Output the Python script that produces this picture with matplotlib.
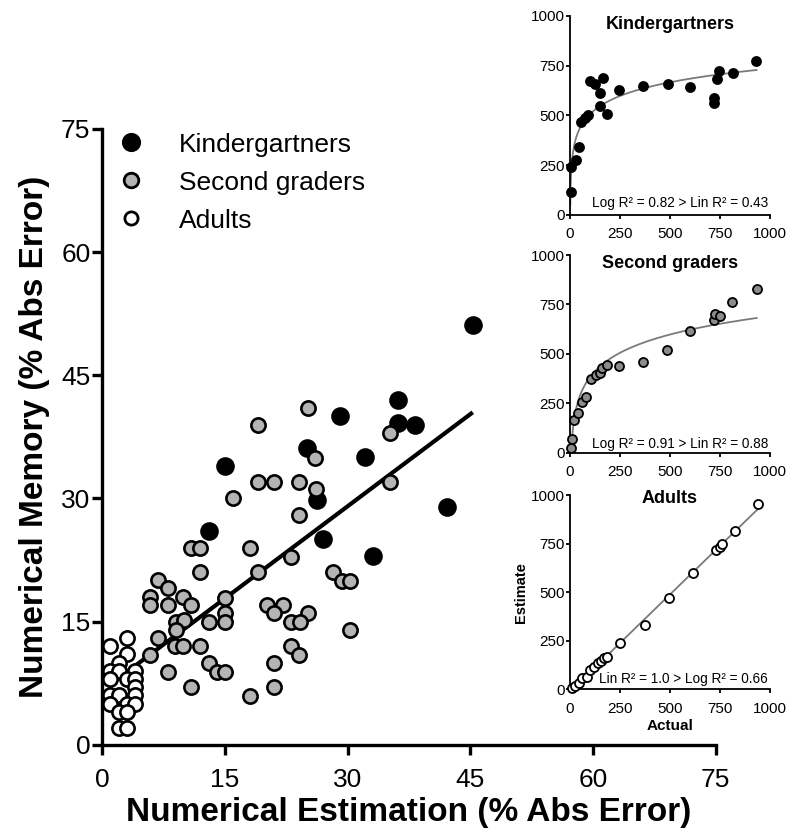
import numpy as np
import matplotlib
matplotlib.use('Agg')
from matplotlib import pyplot as plt
from matplotlib.lines import Line2D

# main scatter: numerical estimation vs numerical memory (% abs error)
kinder_est = [45.3, 36.2, 29.1, 36.2, 38.2, 25.0, 32.1, 15.0, 26.2, 42.2, 13.0, 27.0, 33.1]
kinder_mem = [51.1, 42.0, 40.0, 39.2, 39.0, 36.1, 35.1, 34.0, 29.8, 29.0, 26.0, 25.0, 23.0]

second_est = [25.1, 19.0, 35.2, 26.0, 19.0, 21.0, 24.1, 26.1, 35.2, 16.0, 24.1, 10.9, 11.9, 18.1,
              23.1, 19.0, 11.9, 28.2, 29.3, 30.3, 6.8, 8.0, 5.8, 9.9, 5.8, 8.0, 10.9, 15.0, 15.0,
              20.1, 22.1, 21.0, 25.1, 9.0, 10.0, 13.0, 15.0, 23.1, 24.2, 30.3, 9.0, 6.8, 8.9, 9.9,
              11.9, 5.8, 23.1, 24.1, 13.0, 14.0, 15.0, 8.0, 21.0, 10.9, 21.0, 18.1]
second_mem = [41.0, 39.0, 38.0, 34.9, 32.0, 32.0, 32.0, 31.1, 32.0, 30.0, 28.0, 23.9, 23.9, 23.9,
              22.9, 21.0, 21.0, 21.0, 20.0, 20.0, 20.1, 19.1, 18.0, 18.0, 17.0, 17.0, 17.0, 17.9, 16.0,
              17.0, 17.0, 16.0, 16.0, 15.0, 15.2, 15.0, 15.0, 15.0, 15.0, 14.0, 14.0, 13.0, 12.0, 12.0,
              12.0, 10.9, 12.0, 10.9, 9.9, 8.9, 8.9, 8.9, 9.9, 7.0, 7.0, 5.9]

adult_est = [3.0, 0.9, 3.0, 2.0, 1.0, 2.0, 4.0, 0.9, 3.0, 4.0, 4.0, 1.0, 2.0, 4.0, 1.0, 3.0, 4.0,
             2.0, 3.0, 2.0, 3.0]
adult_mem = [13.0, 12.0, 11.0, 10.0, 9.0, 9.0, 9.0, 8.0, 8.0, 8.0, 7.0, 6.0, 6.0, 6.0, 5.0, 5.0,
             5.0, 4.0, 4.0, 2.0, 2.0]

# insets: actual vs estimate on 0-1000 number line
k_act = [5, 5, 27, 43, 55, 72, 88, 102, 127, 150, 167, 150, 183, 247, 367, 488, 602, 718, 722,
         733, 747, 813, 933]
k_est = [117, 243, 276, 343, 469, 486, 503, 673, 657, 615, 687, 548, 506, 628, 650, 658, 641,
         561, 590, 683, 725, 712, 774]
s_act = [3, 7, 17, 37, 61, 78, 103, 128, 150, 161, 183, 244, 365, 485, 601, 718, 726, 751, 811, 934]
s_est = [22, 67, 165, 202, 258, 280, 371, 393, 405, 427, 444, 438, 460, 519, 617, 671, 702, 691,
         761, 828]
a_act = [8, 25, 42, 59, 84, 101, 121, 138, 155, 171, 185, 252, 373, 496, 613, 731, 748, 760, 824, 941]
a_est = [5, 17, 31, 57, 65, 99, 117, 134, 148, 160, 165, 237, 331, 468, 597, 717, 734, 748, 815, 952]

main_ticks = [0, 15, 30, 45, 60, 75]
inset_ticks = [0, 250, 500, 750, 1000]

plt.rcParams['font.family'] = ['Liberation Sans', 'DejaVu Sans']

fig = plt.figure(figsize=(7.88, 8.32), dpi=100)
ax = fig.add_axes([0.1298, 0.1049, 0.7784, 0.7401])

# regression over all points
all_x = np.array(kinder_est + second_est + adult_est)
all_y = np.array(kinder_mem + second_mem + adult_mem)
slope, icpt = np.polyfit(all_x, all_y, 1)
xx = np.array([all_x.min(), all_x.max()])
ax.plot(xx, slope * xx + icpt, color='black', lw=3, zorder=2, solid_capstyle='butt')

ax.scatter(kinder_est, kinder_mem, s=135, c='black', edgecolors='black', linewidths=1.8, zorder=3, clip_on=False)
ax.scatter(adult_est, adult_mem, s=105, c='white', edgecolors='black', linewidths=1.9, zorder=3, clip_on=False)
ax.scatter(second_est, second_mem, s=105, c='#b4b4b4', edgecolors='black', linewidths=1.9, zorder=4, clip_on=False)

ax.set_xlim(0, 75)
ax.set_ylim(0, 75)
ax.set_xticks(main_ticks)
ax.set_yticks(main_ticks)
for s in ['top', 'right']:
    ax.spines[s].set_visible(False)
for s in ['left', 'bottom']:
    ax.spines[s].set_linewidth(2.4)
ax.tick_params(length=7.5, width=2.4, labelsize=19, direction='out')
ax.tick_params(axis='x', pad=9)
ax.tick_params(axis='y', pad=1)
ax.set_xlabel('Numerical Estimation (% Abs Error)', fontsize=24, fontweight='bold', labelpad=4)
ax.set_ylabel('Numerical Memory (% Abs Error)', fontsize=24, fontweight='bold', labelpad=8)

handles = [Line2D([], [], ls='none', marker='o', ms=12, mfc='black', mec='black', mew=1.8),
           Line2D([], [], ls='none', marker='o', ms=10.5, mfc='#b4b4b4', mec='black', mew=2),
           Line2D([], [], ls='none', marker='o', ms=9.5, mfc='white', mec='black', mew=2)]
ax.legend(handles, ['Kindergartners', 'Second graders', 'Adults'], loc='upper left',
          bbox_to_anchor=(0.026, 0.994), frameon=False, fontsize=19, handlelength=1,
          handletextpad=1.3, labelspacing=0.53, borderpad=0, borderaxespad=0)

def inset(rect, act, est, fill, title, note, title_y, note_y, kind):
    a = fig.add_axes(rect)
    act = np.array(act, dtype=float)
    est = np.array(est, dtype=float)
    if kind == 'log':
        b, c = np.polyfit(np.log(act), est, 1)
        cx = np.geomspace(1, act.max(), 200)
        a.plot(cx, b * np.log(cx) + c, color='#7a7a7a', lw=1.3, zorder=2)
    else:
        b, c = np.polyfit(act, est, 1)
        cx = np.array([0, act.max()])
        a.plot(cx, b * cx + c, color='#7a7a7a', lw=1.3, zorder=2)
    a.plot(act, est, ls='none', marker='o', ms=6.5, mfc=fill, mec='black', mew=1.3, zorder=3, clip_on=False)
    a.set_xlim(0, 1000)
    a.set_ylim(0, 1000)
    a.set_xticks(inset_ticks)
    a.set_yticks(inset_ticks)
    for s in ['top', 'right']:
        a.spines[s].set_visible(False)
    for s in ['left', 'bottom']:
        a.spines[s].set_linewidth(1.3)
    a.tick_params(length=3, width=1.3, labelsize=11)
    a.tick_params(axis='x', pad=6)
    a.tick_params(axis='y', pad=1)
    a.patch.set_alpha(0)
    a.text(0.5, title_y, title, transform=a.transAxes, ha='center', va='center',
           fontsize=13, fontweight='bold')
    a.text(990, note_y, note, ha='right', va='center', fontsize=9.8)
    return a

inset([0.7235, 0.7416, 0.2535, 0.2392], k_act, k_est, 'black', 'Kindergartners',
      'Log R² = 0.82 > Lin R² = 0.43', 0.958, 60, 'log')
inset([0.7235, 0.4559, 0.2535, 0.2376], s_act, s_est, '#8c8c8c', 'Second graders',
      'Log R² = 0.91 > Lin R² = 0.88', 0.955, 44, 'log')
a3 = inset([0.7235, 0.1715, 0.2535, 0.2335], a_act, a_est, 'white', 'Adults',
           'Lin R² = 1.0 > Log R² = 0.66', 0.98, 51, 'lin')
a3.set_xlabel('Actual', fontsize=11, fontweight='bold', labelpad=2)
a3.set_ylabel('Estimate', fontsize=10.5, fontweight='bold', labelpad=2)

plt.savefig('out.png', dpi=100)
